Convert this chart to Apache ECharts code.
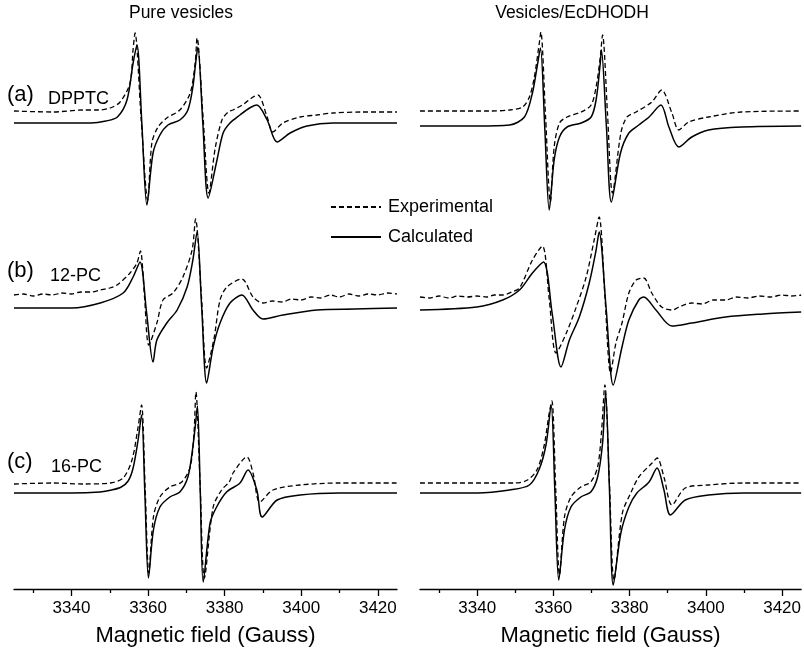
<!DOCTYPE html>
<html>
<head>
<meta charset="utf-8">
<script src="https://cdn.jsdelivr.net/npm/echarts@6/dist/echarts.min.js"></script>
<style>
  html, body { margin: 0; padding: 0; background: #fff; }
  #chart { width: 804px; height: 658px; }
</style>
</head>
<body>
<div id="chart"></div>
<script>
// field range and ticks (Gauss)
var fieldMin = 3325, fieldMax = 3425;
var majorTicks = [3340, 3360, 3380, 3400, 3420];
var minorTicks = [3330, 3350, 3370, 3390, 3410];

// spectra, [field, intensity + offset]
// (a) DPPTC, pure vesicles
var expA_pure = [[3325,478],[3335,477],[3343,479],[3347,479],[3350.1,481],[3352.7,487],[3355.3,506],[3356.1,540],[3356.6,556],[3358.2,470],[3359.9,389],[3361.0,446],[3362.6,462],[3364.9,471],[3368.3,479],[3371.0,496],[3372.3,526],[3372.8,551],[3374.4,470],[3375.9,396],[3377.5,440],[3379.3,469],[3380.9,477],[3382.2,479],[3385,485],[3387.4,492],[3388.7,494],[3391.1,472],[3392.6,457],[3395.2,466],[3399.7,472],[3404,474],[3408.3,476],[3416,477],[3425,477]];
var calcA_pure = [[3325,466],[3340,466],[3345,466],[3349,468],[3352,472],[3354.5,489],[3356.1,526],[3357.1,544],[3358.4,464],[3359.7,384],[3361.3,436],[3363.1,454],[3365.2,464],[3368.3,469],[3370.4,479],[3371.7,502],[3372.4,525],[3373.0,542],[3374.3,466],[3375.7,391],[3378.0,429],[3379.6,456],[3381.4,466],[3384.0,474],[3386.5,481],[3388.4,484],[3391.1,469],[3393.7,447],[3397.1,456],[3401.5,463],[3408.3,466],[3425,466]];
// (b) 12-PC, pure vesicles
var expB_pure = [[3325,294],[3327.5,295],[3330,293],[3332.5,295],[3335,294],[3337.5,296],[3340,295],[3342.5,297],[3345,297],[3347.5,299],[3350,301],[3351.9,304],[3355.3,316],[3357.1,326],[3358.0,338],[3359.1,291],[3360.2,244],[3362.3,266],[3363.9,289],[3366.5,296],[3369.1,312],[3371.5,339],[3372.4,370],[3373.9,295],[3375.3,221],[3377.2,250],[3378.8,289],[3380.6,302],[3384.5,310],[3387.4,292],[3390,286],[3392.5,288],[3395,287],[3397.5,290],[3400,289],[3402.5,292],[3405,291],[3407.5,294],[3410,292],[3412.5,295],[3415,293],[3417.5,295],[3420,294],[3422.5,296],[3425,295]];
var calcB_pure = [[3325,281],[3340,281],[3347.5,286],[3353.5,296],[3356.1,312],[3357.9,327],[3359.6,277],[3361.3,227],[3362.3,249],[3364.9,266],[3367.6,279],[3370.2,302],[3371.7,329],[3372.8,357],[3374.0,282],[3375.3,206],[3377.0,242],[3378.8,266],[3381.4,286],[3384.5,294],[3387.4,279],[3390.0,270],[3395.2,274],[3404.1,279],[3414,280],[3425,281]];
// (c) 16-PC, pure vesicles
var expC_pure = [[3325,105],[3335,106],[3343,105],[3350.1,106],[3353.5,111],[3355.8,129],[3357.4,162],[3358.3,184],[3359.25,100],[3360.2,16],[3361.4,72],[3363.1,92],[3365.7,102],[3368.8,107],[3371.0,122],[3372.0,156],[3372.5,197],[3373.6,104],[3374.7,11],[3377.0,82],[3379.2,99],[3381.2,107],[3382.2,116],[3385.8,132],[3387.4,116],[3389.2,87],[3392.6,99],[3399.7,104],[3410,106],[3425,106]];
var calcC_pure = [[3325,96],[3340,96],[3347.5,97],[3350.5,99],[3353.0,102],[3354.8,108],[3356.1,121],[3357.4,149],[3358.3,174],[3359.2,92],[3360.1,11],[3361.4,59],[3363.1,82],[3365.7,92],[3368.3,97],[3370.4,112],[3371.7,142],[3372.5,169],[3372.9,183],[3373.65,95],[3374.4,7],[3376.2,66],[3377.9,82],[3380.5,97],[3384.0,106],[3386.1,119],[3388.4,99],[3389.8,72],[3393.7,89],[3399.7,94],[3410,96],[3425,96]];
// (a) DPPTC, vesicles/EcDHODH
var expA_enz = [[3325,478],[3335,478],[3343,478],[3348.5,479],[3351.9,482],[3353.7,492],[3355.0,512],[3356.3,546],[3356.7,557],[3357.95,472],[3359.2,387],[3360.2,442],[3361.6,466],[3363.6,472],[3367.3,477],[3369.9,484],[3371.2,502],[3372.3,532],[3372.9,554],[3374.2,475],[3375.5,396],[3377.7,456],[3379.3,472],[3381.7,477],[3385.8,487],[3388.4,499],[3391.1,476],[3392.9,459],[3395.5,467],[3400.7,472],[3409.3,477],[3425,478]];
var calcA_enz = [[3325,463],[3340,463],[3348.5,464],[3352.4,472],[3354.5,496],[3355.8,524],[3356.6,541],[3357.75,460],[3358.9,379],[3360.2,429],[3361.6,452],[3363.6,462],[3367.3,466],[3369.9,472],[3371.2,489],[3372.3,526],[3372.6,539],[3373.9,463],[3375.2,387],[3377.6,436],[3379.8,456],[3382.4,464],[3385.1,472],[3388.2,484],[3390.3,462],[3392.9,442],[3396.3,452],[3400.7,459],[3409.3,462],[3425,463]];
// (b) 12-PC, vesicles/EcDHODH
var expB_enz = [[3325,292],[3327.5,291],[3330,293],[3332.5,291],[3335,293],[3337.5,292],[3339.9,293],[3342.5,292],[3344.5,294],[3346.7,294],[3349,297],[3351.1,301],[3354.5,329],[3357.1,343],[3358.9,290],[3360.7,236],[3363.4,256],[3366.0,282],[3368.6,312],[3370.7,349],[3372.0,372],[3373.5,294],[3375.0,216],[3376.4,246],[3378.0,266],[3379.8,296],[3381.7,309],[3383.7,311],[3385.8,296],[3388.4,282],[3391.1,279],[3393.5,283],[3396.3,286],[3399,285],[3402,289],[3405.2,289],[3408,292],[3411,291],[3414,293],[3417,292],[3420,294],[3422.5,293],[3425,294]];
var calcB_enz = [[3325,279],[3339.9,282],[3346.7,289],[3351.1,299],[3354.5,316],[3357.4,327],[3359.7,275],[3362.0,222],[3364.2,249],[3366.8,272],[3369.4,306],[3371.2,339],[3372.0,357],[3373.85,280],[3375.7,204],[3378.0,242],[3379.8,269],[3382.4,289],[3383.7,292],[3386.9,279],[3391.1,263],[3396.3,266],[3405.2,272],[3415,275],[3425,277]];
// (c) 16-PC, vesicles/EcDHODH
var expC_enz = [[3325,106],[3335,106],[3343,106],[3349.8,106],[3353.2,109],[3355.8,120],[3357.6,144],[3358.9,176],[3359.6,188],[3360.6,101],[3361.6,14],[3362.9,72],[3364.6,92],[3367.2,102],[3369.8,107],[3371.6,122],[3372.6,156],[3373.5,204],[3374.7,106],[3375.9,9],[3378.1,76],[3380.3,96],[3382.4,112],[3385.9,126],[3387.2,131],[3389.0,112],[3391.1,84],[3394.6,101],[3400.7,104],[3410,106],[3425,106]];
var calcC_enz = [[3325,96],[3340,96],[3348.5,99],[3353.7,104],[3356.3,120],[3358.1,145],[3359.4,184],[3360.4,96],[3361.4,9],[3362.9,59],[3364.6,82],[3367.2,92],[3369.8,97],[3371.6,112],[3372.9,146],[3373.7,196],[3374.7,100],[3375.7,4],[3377.7,56],[3379.8,82],[3381.9,96],[3385.1,107],[3387.2,121],[3389.0,99],[3390.7,74],[3394.6,89],[3400.7,94],[3410,96],[3425,96]];

var chart = echarts.init(document.getElementById('chart'), null, { renderer: 'canvas' });
var font = 'Liberation Sans, Arial, Helvetica, sans-serif';

function mainAxis(g) {
    return {
        type: 'value', gridIndex: g, position: 'bottom',
        min: fieldMin, max: fieldMax,
        name: 'Magnetic field (Gauss)', nameLocation: 'middle', nameGap: 47,
        nameTextStyle: { fontFamily: font, fontSize: 22, color: '#000', verticalAlign: 'middle' },
        axisLine: { onZero: false, lineStyle: { color: '#000', width: 1.3 } },
        axisTick: { inside: false, length: 7, customValues: majorTicks, lineStyle: { color: '#000', width: 1.3 } },
        axisLabel: {
            customValues: majorTicks, margin: 11, fontFamily: font, fontSize: 17, color: '#000',
            formatter: function (v) { return String(v); }
        },
        splitLine: { show: false }
    };
}
function minorAxis(g) {
    return {
        type: 'value', gridIndex: g, position: 'bottom',
        min: fieldMin, max: fieldMax,
        axisLine: { show: false, onZero: false },
        axisTick: { inside: false, length: 4, customValues: minorTicks, lineStyle: { color: '#000', width: 1.3 } },
        axisLabel: { show: false },
        splitLine: { show: false }
    };
}
function yAxis(g) {
    return { type: 'value', gridIndex: g, min: 0, max: 570, show: false, splitLine: { show: false } };
}
function spectrum(name, data, g, dashed) {
    return {
        type: 'line', name: name, xAxisIndex: g, yAxisIndex: g, data: data,
        symbol: 'none', showSymbol: false, smooth: 0.3,
        lineStyle: { color: '#000', width: dashed ? 1.3 : 1.5, type: dashed ? [5, 3] : 'solid' },
        itemStyle: { color: '#000' }
    };
}

function txt(s, x, y, size, align) {
    return { type: 'text', x: x, y: y, style: { text: s, fontFamily: font, fontSize: size, fill: '#000', align: align || 'left', verticalAlign: 'middle' } };
}

var option = {
    animation: false,
    backgroundColor: '#fff',
    grid: [
        { left: 14, top: 19, width: 383, height: 570 },
        { left: 420, top: 19, width: 383, height: 570 }
    ],
    xAxis: [mainAxis(0), mainAxis(1), minorAxis(0), minorAxis(1)],
    yAxis: [yAxis(0), yAxis(1)],
    legend: {
        data: ['Experimental', 'Calculated'], orient: 'vertical',
        left: 325, top: 192, itemWidth: 50, itemHeight: 14, itemGap: 10,
        itemStyle: { opacity: 0 },
        textStyle: { fontFamily: font, fontSize: 18, color: '#000', lineHeight: 20, padding: [0, 0, 0, 2] }
    },
    graphic: [
        txt('Pure vesicles', 181, 13, 17.5, 'center'),
        txt('Vesicles/EcDHODH', 572, 13, 17.5, 'center'),
        txt('(a)', 7, 95, 22), txt('DPPTC', 48, 99, 18),
        txt('(b)', 7, 271, 22), txt('12-PC', 50, 276, 18),
        txt('(c)', 7, 462, 22), txt('16-PC', 51, 467, 18)
    ],
    series: [
        spectrum('Experimental', expA_pure, 0, true),
        spectrum('Calculated', calcA_pure, 0, false),
        spectrum('Experimental', expB_pure, 0, true),
        spectrum('Calculated', calcB_pure, 0, false),
        spectrum('Experimental', expC_pure, 0, true),
        spectrum('Calculated', calcC_pure, 0, false),
        spectrum('Experimental', expA_enz, 1, true),
        spectrum('Calculated', calcA_enz, 1, false),
        spectrum('Experimental', expB_enz, 1, true),
        spectrum('Calculated', calcB_enz, 1, false),
        spectrum('Experimental', expC_enz, 1, true),
        spectrum('Calculated', calcC_enz, 1, false)
    ]
};
chart.setOption(option);
</script>
</body>
</html>
